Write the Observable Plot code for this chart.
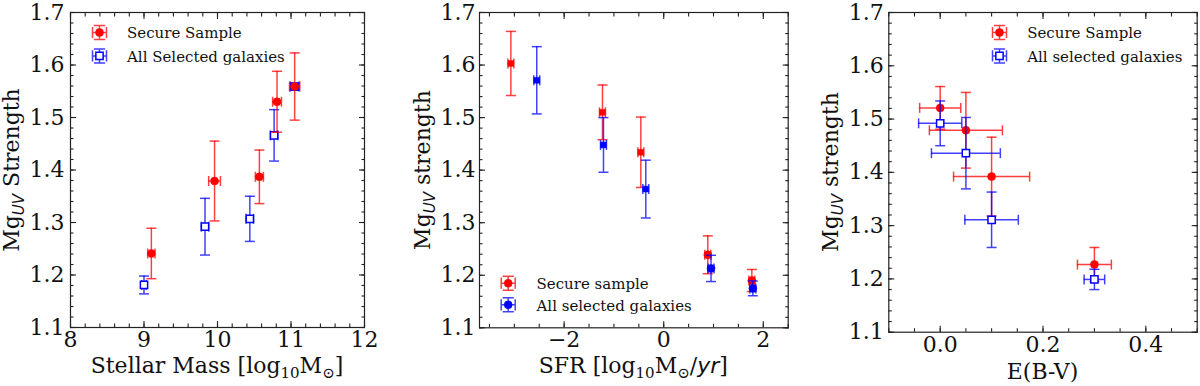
<!DOCTYPE html>
<html><head><meta charset="utf-8">
<script src="https://cdn.jsdelivr.net/npm/d3@7"></script>
<script src="https://cdn.jsdelivr.net/npm/@observablehq/plot@0.6"></script>
<style>
html,body{margin:0;padding:0;background:#fff;}
#wrap{position:relative;width:1200px;height:386px;overflow:hidden;background:#fff;}
#wrap svg{position:absolute;top:0;}
#wrap svg text{font-family:'DejaVu Serif', serif;}
</style></head><body><div id="wrap"></div>
<script>
// ---------- Data ----------
// Panel 1: Stellar mass
const massSecureX    = [9.10, 9.96, 10.57, 10.81, 11.05];
const massSecureXErr = [0.05, 0.08, 0.055, 0.06, 0.07];
const massSecureY    = [1.241, 1.379, 1.387, 1.530, 1.559];
const massSecureYErr = [0.048, 0.076, 0.051, 0.058, 0.064];
const massAllX    = [9.00, 9.83, 10.44, 10.77, 11.05];
const massAllXErr = [0.03, 0.05, 0.05, 0.05, 0.06];
const massAllY    = [1.181, 1.292, 1.307, 1.466, 1.559];
const massAllYErr = [0.017, 0.054, 0.043, 0.049, 0.006];

// Panel 2: SFR
const sfrSecureX    = [-3.07, -1.23, -0.46, 0.885, 1.77];
const sfrSecureXErr = [0.06, 0.06, 0.06, 0.06, 0.06];
const sfrSecureY    = [1.603, 1.510, 1.434, 1.239, 1.190];
const sfrSecureYErr = [0.061, 0.052, 0.067, 0.036, 0.021];
const sfrAllX    = [-2.55, -1.21, -0.36, 0.95, 1.79];
const sfrAllXErr = [0.06, 0.06, 0.06, 0.06, 0.06];
const sfrAllY    = [1.571, 1.448, 1.364, 1.213, 1.175];
const sfrAllYErr = [0.064, 0.052, 0.055, 0.025, 0.014];

// Panel 3: E(B-V)
const ebvSecureX    = [0.00, 0.05, 0.10, 0.30];
const ebvSecureXErr = [0.040, 0.071, 0.074, 0.033];
const ebvSecureY    = [1.521, 1.479, 1.392, 1.227];
const ebvSecureYErr = [0.040, 0.071, 0.074, 0.032];
const ebvAllX    = [0.00, 0.05, 0.10, 0.30];
const ebvAllXErr = [0.042, 0.067, 0.052, 0.020];
const ebvAllY    = [1.492, 1.436, 1.311, 1.199];
const ebvAllYErr = [0.042, 0.067, 0.052, 0.019];

// Ticks and labels
const yMajor = [1.1, 1.2, 1.3, 1.4, 1.5, 1.6, 1.7];
const yMinor = d3.range(55, 86).map(k => k / 50);
const massXMajor = [8, 9, 10, 11, 12];
const massXMinor = d3.range(40, 61).map(k => k / 5);
const sfrXMajor = [-2, 0, 2];
const sfrXMinor = d3.range(-7, 6).map(k => k / 2);
const ebvXMajor = [0, 0.2, 0.4];
const ebvXMinor = d3.range(-2, 11).map(k => k / 20);

const legend1 = ["Secure Sample", "All Selected galaxies"];
const legend2 = ["Secure sample", "All selected galaxies"];
const legend3 = ["Secure Sample", "All selected galaxies"];

// ---------- Helpers ----------
const RED = "#ff0000", BLUE = "#0000ff", INK = "#111";
const FONT = "'DejaVu Serif', serif";

const rows = (X, XE, Y, YE) => X.map((x, i) => ({x, xerr: XE[i], y: Y[i], yerr: YE[i]}));

const hCap = {draw(c, s) { const w = Math.sqrt(s / Math.PI); c.moveTo(-w, 0); c.lineTo(w, 0); }};
const vCap = {draw(c, s) { const w = Math.sqrt(s / Math.PI); c.moveTo(0, -w); c.lineTo(0, w); }};
const legendBar = {draw(c, s) {
  const w = Math.sqrt(s / Math.PI), k = w * 0.8;
  c.moveTo(0, -w); c.lineTo(0, w);
  c.moveTo(-w, 0); c.lineTo(w, 0);
  c.moveTo(-k, -w); c.lineTo(k, -w);
  c.moveTo(-k, w); c.lineTo(k, w);
  c.moveTo(-w, -k); c.lineTo(-w, k);
  c.moveTo(w, -k); c.lineTo(w, k);
}};

function errMarks(data, color) {
  const eb = {stroke: color, strokeWidth: 1.5, strokeOpacity: 0.75};
  return [
    Plot.ruleX(data, {x: "x", y1: d => d.y - d.yerr, y2: d => d.y + d.yerr, ...eb}),
    Plot.ruleY(data, {y: "y", x1: d => d.x - d.xerr, x2: d => d.x + d.xerr, ...eb}),
    Plot.dot(data, {x: "x", y: d => d.y + d.yerr, symbol: hCap, r: 5, fill: "none", ...eb}),
    Plot.dot(data, {x: "x", y: d => d.y - d.yerr, symbol: hCap, r: 5, fill: "none", ...eb}),
    Plot.dot(data, {x: d => d.x - d.xerr, y: "y", symbol: vCap, r: 5, fill: "none", ...eb}),
    Plot.dot(data, {x: d => d.x + d.xerr, y: "y", symbol: vCap, r: 5, fill: "none", ...eb})
  ];
}
const redDots = (data, opts = {}) => Plot.dot(data, {x: "x", y: "y", r: 4, fill: RED, stroke: RED, strokeWidth: 0.5, ...opts});
const blueSquares = (data) => Plot.dot(data, {x: "x", y: "y", symbol: "square", r: 4.1, fill: "white", stroke: BLUE, strokeWidth: 1.5});

function tickAxes(xMajor, xMinor) {
  const s = {stroke: "#222", strokeWidth: 1.1, fill: "none", label: null};
  return [
    Plot.axisY(yMajor, {anchor: "left", tickSize: 6, dx: 6, ...s}),
    Plot.axisY(yMinor, {anchor: "left", tickSize: 3.5, dx: 3.5, ...s}),
    Plot.axisY(yMajor, {anchor: "right", tickSize: 6, dx: -6, ...s}),
    Plot.axisY(yMinor, {anchor: "right", tickSize: 3.5, dx: -3.5, ...s}),
    Plot.axisX(xMajor, {anchor: "bottom", tickSize: 6, dy: -6, ...s}),
    Plot.axisX(xMinor, {anchor: "bottom", tickSize: 3.5, dy: -3.5, ...s}),
    Plot.axisX(xMajor, {anchor: "top", tickSize: 6, dy: 6, ...s}),
    Plot.axisX(xMinor, {anchor: "top", tickSize: 3.5, dy: 3.5, ...s})
  ];
}
function labelAxes(xMajor, xFmt, yPad) {
  const t = {tickSize: 0, label: null, fill: INK, fontSize: 22, fontFamily: FONT};
  return [
    Plot.axisY(yMajor, {anchor: "left", tickPadding: yPad, tickFormat: d3.format(".1f"), ...t}),
    Plot.axisX(xMajor, {anchor: "bottom", tickPadding: 4, tickFormat: xFmt, ...t})
  ];
}
function legendMarks(labels, anchor, mx, tx, ys, secondMarker) {
  const out = [];
  const colors = [RED, BLUE];
  labels.forEach((lab, i) => {
    const base = {frameAnchor: anchor, dx: mx, dy: ys[i]};
    out.push(Plot.dot([lab], {...base, symbol: legendBar, r: 7, fill: "none", stroke: colors[i], strokeWidth: 1.5, strokeOpacity: 0.75}));
    if (i === 0 || secondMarker === "dot") {
      out.push(Plot.dot([lab], {...base, r: 4, fill: colors[i], stroke: colors[i], strokeWidth: 0.5}));
    } else {
      out.push(Plot.dot([lab], {...base, symbol: "square", r: 4.1, fill: "white", stroke: colors[i], strokeWidth: 1.5}));
    }
    out.push(Plot.text([lab], {frameAnchor: anchor, dx: tx, dy: ys[i] + 1, text: d => d, textAnchor: "start", lineAnchor: "middle", fontSize: 15, fontFamily: FONT, fill: INK}));
  });
  return out;
}
function addText(svg, x, y, rotate, segs, size) {
  const t = d3.select(svg).append("text")
    .attr("transform", `translate(${x},${y})${rotate ? " rotate(-90)" : ""}`)
    .attr("text-anchor", "middle").attr("fill", INK)
    .style("font-family", FONT).style("font-size", size + "px");
  let shifted = false;
  segs.forEach(s => {
    const sp = t.append("tspan").text(s.t);
    if (s.sub) {
      sp.style("font-size", "15px").attr("dy", shifted ? 0 : 5);
      shifted = true;
    } else {
      if (shifted) sp.attr("dy", -5);
      shifted = false;
    }
    if (s.italic) sp.style("font-style", "italic").style("font-family", "'DejaVu Sans', sans-serif");
  });
}
const minusFmt = d => d < 0 ? "\u2212" + Math.abs(d) : String(d);

function makePlot(cfg) {
  const svg = Plot.plot({
    width: 400, height: 386,
    marginLeft: cfg.ml, marginRight: cfg.mr, marginTop: 12, marginBottom: cfg.mb,
    style: {fontFamily: FONT, fontSize: "22px", color: INK, background: "white", overflow: "visible"},
    x: {domain: cfg.xDomain},
    y: {domain: [1.1, 1.7]},
    marks: [
      ...cfg.marks,
      ...tickAxes(cfg.xMajor, cfg.xMinor),
      ...labelAxes(cfg.xMajor, cfg.xFmt, cfg.yPad),
      Plot.frame({stroke: "#222", strokeWidth: 1.2}),
      ...cfg.legend
    ]
  });
  svg.style.left = cfg.left + "px";
  document.getElementById("wrap").appendChild(svg);
  return svg;
}

// ---------- Panel 1 ----------
const m1s = rows(massSecureX, massSecureXErr, massSecureY, massSecureYErr);
const m1a = rows(massAllX, massAllXErr, massAllY, massAllYErr);
const p1 = makePlot({
  left: 0, ml: 70, mr: 36, mb: 59, yPad: 6,
  xDomain: [8, 12], xMajor: massXMajor, xMinor: massXMinor, xFmt: d => String(d),
  marks: [...errMarks(m1a, BLUE), blueSquares(m1a), ...errMarks(m1s, RED), redDots(m1s)],
  legend: legendMarks(legend1, "top-left", 29, 56.5, [20, 43.4], "square")
});
addText(p1, 19, 170, true, [{t: "Mg"}, {t: "UV", sub: true, italic: true}, {t: " Strength"}], 22);
addText(p1, 217, 373, false, [{t: "Stellar Mass [log"}, {t: "10", sub: true}, {t: "M"}, {t: "\u2299", sub: true}, {t: "]"}], 22);

// ---------- Panel 2 ----------
const m2s = rows(sfrSecureX, sfrSecureXErr, sfrSecureY, sfrSecureYErr);
const m2a = rows(sfrAllX, sfrAllXErr, sfrAllY, sfrAllYErr);
const sq = (i) => i < 3;
const p2 = makePlot({
  left: 400, ml: 79, mr: 12.3, mb: 58.7, yPad: 4,
  xDomain: [-3.7, 2.5], xMajor: sfrXMajor, xMinor: sfrXMinor, xFmt: minusFmt,
  marks: [
    ...errMarks(m2s, RED),
    Plot.dot(m2s, {filter: (d, i) => sq(i), x: "x", y: "y", symbol: "square", r: 3.3, fill: RED, stroke: RED, strokeWidth: 0.5}),
    Plot.dot(m2s, {filter: (d, i) => !sq(i), x: "x", y: "y", r: 4, fill: RED, stroke: RED, strokeWidth: 0.5}),
    ...errMarks(m2a, BLUE),
    Plot.dot(m2a, {filter: (d, i) => sq(i), x: "x", y: "y", symbol: "square", r: 3.3, fill: BLUE, stroke: BLUE, strokeWidth: 0.5}),
    Plot.dot(m2a, {filter: (d, i) => !sq(i), x: "x", y: "y", r: 4, fill: BLUE, stroke: BLUE, strokeWidth: 0.5})
  ],
  legend: legendMarks(legend2, "bottom-left", 28.7, 57, [-44.6, -23], "dot")
});
addText(p2, 29.5, 170, true, [{t: "Mg"}, {t: "UV", sub: true, italic: true}, {t: " strength"}], 22);
addText(p2, 233.3, 373.3, false, [{t: "SFR [log"}, {t: "10", sub: true}, {t: "M"}, {t: "\u2299", sub: true}, {t: "/"}, {t: "yr", italic: true}, {t: "]"}], 22);

// ---------- Panel 3 ----------
const m3s = rows(ebvSecureX, ebvSecureXErr, ebvSecureY, ebvSecureYErr);
const m3a = rows(ebvAllX, ebvAllXErr, ebvAllY, ebvAllYErr);
const p3 = makePlot({
  left: 800, ml: 88.3, mr: 3.3, mb: 54.3, yPad: 5,
  xDomain: [-0.1, 0.5], xMajor: ebvXMajor, xMinor: ebvXMinor, xFmt: d3.format(".1f"),
  marks: [...errMarks(m3s, RED), redDots(m3s), ...errMarks(m3a, BLUE), blueSquares(m3a)],
  legend: legendMarks(legend3, "top-left", 110.7, 138.4, [20, 43.4], "square")
});
addText(p3, 38, 172, true, [{t: "Mg"}, {t: "UV", sub: true, italic: true}, {t: " strength"}], 22);
addText(p3, 242.5, 378.5, false, [{t: "E(B-V)"}], 22);
</script></body></html>
